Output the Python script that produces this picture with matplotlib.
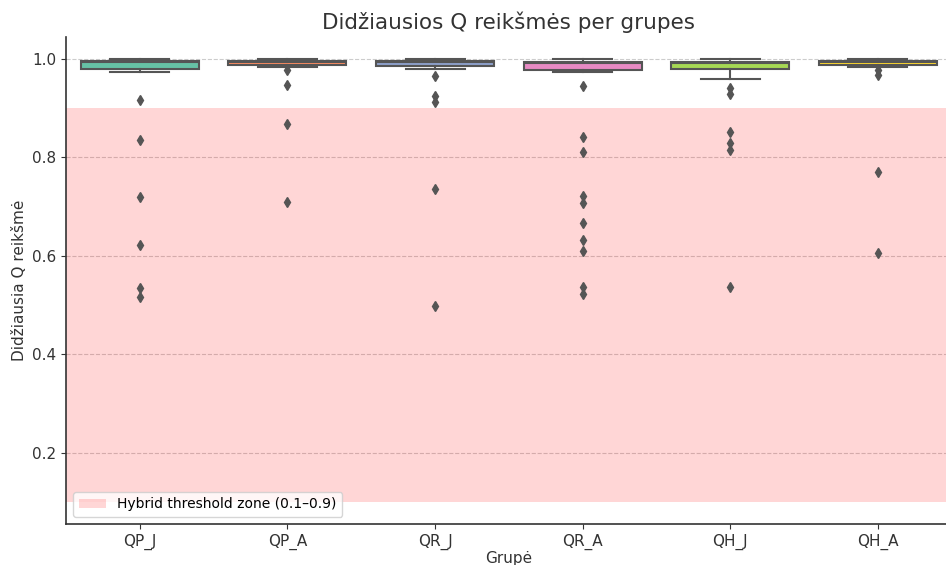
import matplotlib.pyplot as plt

# grupės ir boxplot statistikos (nuskaityta nuo paveikslo)
groups = ["QP_J", "QP_A", "QR_J", "QR_A", "QH_J", "QH_A"]
box_colors = ["#66c2a5", "#fc8d62", "#8da0cb", "#e78ac3", "#a6d854", "#ffd92f"]

q1 = [0.979, 0.989, 0.986, 0.978, 0.979, 0.989]
med = [0.995, 0.995, 0.994, 0.993, 0.993, 0.995]
q3 = [0.997, 0.997, 0.996, 0.995, 0.994, 0.996]
whislo = [0.974, 0.984, 0.979, 0.974, 0.960, 0.984]
whishi = [1.0, 1.0, 1.0, 1.0, 1.0, 1.0]

fliers = [
    [0.916, 0.835, 0.719, 0.623, 0.534, 0.517],
    [0.978, 0.948, 0.868, 0.709],
    [0.965, 0.925, 0.912, 0.735, 0.499],
    [0.945, 0.841, 0.811, 0.721, 0.707, 0.666, 0.633, 0.609, 0.536, 0.523],
    [0.941, 0.930, 0.851, 0.829, 0.815, 0.536],
    [0.977, 0.968, 0.770, 0.605],
]

stats = []
for i in range(len(groups)):
    stats.append({"label": groups[i], "q1": q1[i], "med": med[i], "q3": q3[i],
                  "whislo": whislo[i], "whishi": whishi[i], "fliers": fliers[i]})

line_col = "#555555"
fig = plt.figure(figsize=(9.46, 5.65), dpi=100)
ax = fig.add_axes([0.0698, 0.0726, 0.9362, 0.862])

ax.axhspan(0.1, 0.9, color="red", alpha=0.16, lw=0, label="Hybrid threshold zone (0.1–0.9)")

bp = ax.bxp(stats, positions=range(len(groups)), widths=0.8, patch_artist=True,
            boxprops=dict(edgecolor=line_col, linewidth=1.5),
            whiskerprops=dict(color=line_col, linewidth=1.5),
            capprops=dict(color=line_col, linewidth=1.5),
            medianprops=dict(color=line_col, linewidth=1.5),
            flierprops=dict(marker="d", markerfacecolor=line_col, markeredgecolor=line_col,
                            markersize=5, linestyle="none"))
for patch, c in zip(bp["boxes"], box_colors):
    patch.set_facecolor(c)

ax.set_xlim(-0.5, 5.5)
ax.set_ylim(0.055, 1.045)
ax.set_yticks([0.2, 0.4, 0.6, 0.8, 1.0])
ax.set_xticks(range(len(groups)))
ax.set_xticklabels(groups)
ax.grid(axis="y", linestyle="--", color="#cccccc", linewidth=0.8)
ax.set_axisbelow(True)
for s in ["top", "right"]:
    ax.spines[s].set_visible(False)
for s in ["left", "bottom"]:
    ax.spines[s].set_color("#333333")
    ax.spines[s].set_linewidth(1.2)
ax.tick_params(colors="#333333", labelsize=11)

ax.set_title("Didžiausios Q reikšmės per grupes", fontsize=15.5, color="#333333")
ax.set_xlabel("Grupė", fontsize=11, color="#333333", labelpad=1)
ax.set_ylabel("Didžiausia Q reikšmė", fontsize=11, color="#333333")
ax.legend(loc="lower left", fontsize=10)

fig.savefig("out.png", dpi=100)
